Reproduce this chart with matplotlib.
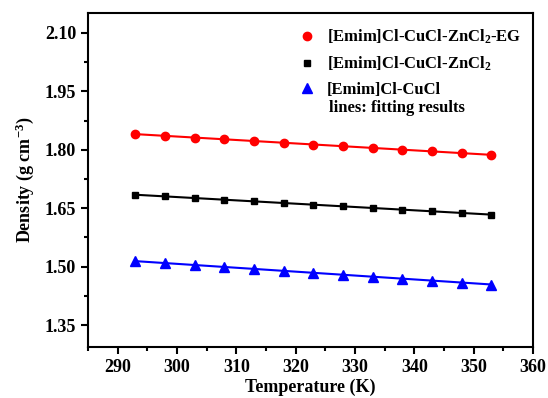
import numpy as np
import matplotlib
matplotlib.use("Agg")
import matplotlib.pyplot as plt
from matplotlib.ticker import MultipleLocator

temperature = [293, 298, 303, 308, 313, 318, 323, 328, 333, 338, 343, 348, 353]
rho_eg = [1.840, 1.836, 1.831, 1.827, 1.822, 1.818, 1.813, 1.809, 1.805, 1.800, 1.796, 1.791, 1.787]
rho_zn = [1.684, 1.680, 1.676, 1.672, 1.668, 1.663, 1.659, 1.655, 1.650, 1.646, 1.642, 1.638, 1.633]
rho_cu = [1.514, 1.509, 1.504, 1.499, 1.494, 1.489, 1.484, 1.479, 1.474, 1.469, 1.464, 1.459, 1.454]
labels = ["[Emim]Cl-CuCl-ZnCl$_\\mathbf{2}$-EG", "[Emim]Cl-CuCl-ZnCl$_\\mathbf{2}$", "[Emim]Cl-CuCl"]

plt.rcParams['font.family'] = ['Liberation Serif', 'DejaVu Serif']
plt.rcParams['font.weight'] = 'bold'
plt.rcParams['mathtext.fontset'] = 'custom'
plt.rcParams['mathtext.rm'] = 'Liberation Serif:bold'
plt.rcParams['mathtext.bf'] = 'Liberation Serif:bold'
plt.rcParams['mathtext.default'] = 'bf'

fig = plt.figure(figsize=(5.48, 3.98), dpi=100)
ax = fig.add_axes([0.1606, 0.1281, 0.812, 0.8392])

T = np.array(temperature, dtype=float)
styles = [('red', 'o', 6.0), ('black', 's', 5.0), ('blue', '^', 6.5)]
handles = []
for data, (c, m, ms), lab in zip([rho_eg, rho_zn, rho_cu], styles, labels):
    y = np.array(data)
    p = np.polyfit(T, y, 1)
    ax.plot(T, np.polyval(p, T), color=c, lw=1.5, zorder=2)
    h, = ax.plot(T, y, linestyle='none', marker=m, color=c, ms=ms, zorder=3, label=lab)
    handles.append(h)

ax.set_xlim(285, 360)
ax.set_ylim(1.2935, 2.151)
ax.xaxis.set_major_locator(MultipleLocator(10))
ax.xaxis.set_minor_locator(MultipleLocator(5))
ax.yaxis.set_major_locator(MultipleLocator(0.15))
ax.yaxis.set_minor_locator(MultipleLocator(0.075))
ax.yaxis.set_major_formatter(matplotlib.ticker.FormatStrFormatter('%.2f'))
ax.tick_params(which='major', direction='out', length=5, width=1.5, labelsize=13)
ax.tick_params(which='minor', direction='out', length=3, width=1.5)
for s in ax.spines.values():
    s.set_linewidth(1.5)

ax.set_xlabel('Temperature (K)', fontsize=13, fontweight='bold', labelpad=2)
ax.set_ylabel('Density (g cm$^{\\mathbf{-3}}$)', fontsize=13, fontweight='bold', labelpad=6)

leg = ax.legend(handles=handles, loc='upper left', bbox_to_anchor=(0.44, 1.0), frameon=False,
                handlelength=1.0, handletextpad=0.7, labelspacing=0.52,
                prop={'weight': 'bold', 'size': 12})
ax.text(0.5405, 0.716, 'lines: fitting results', transform=ax.transAxes, fontsize=12,
        fontweight='bold', va='center', ha='left')

fig.savefig('out.png', dpi=100)
